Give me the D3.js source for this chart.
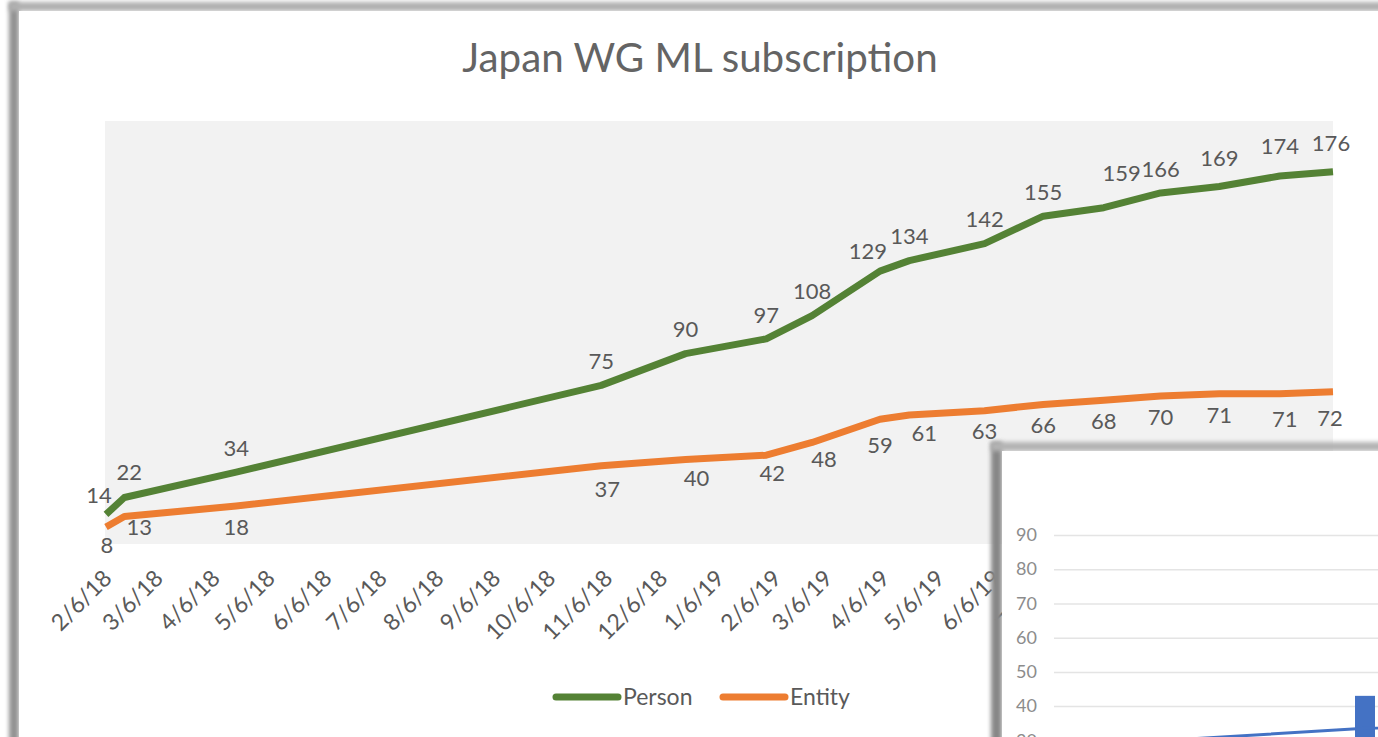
<!DOCTYPE html>
<html lang="en">
<head>
  <meta charset="UTF-8">
  <title>Japan WG ML subscription</title>
  <style>
    body { margin: 0; background: #fff; }
    svg text { font-family: Lato, "Open Sans", sans-serif; }
  </style>
</head>
<body>
<div id="chart"></div>

<script src="https://cdn.jsdelivr.net/npm/d3@7/dist/d3.min.js"></script>
<script>
  // snapshot dates (m/d/y on the axis) and subscriber counts
  const dates = ["2018-02-06", "2018-02-16", "2018-04-18", "2018-11-03", "2018-12-19", "2019-02-01",
    "2019-02-26", "2019-04-04", "2019-04-20", "2019-05-31", "2019-07-02", "2019-08-04",
    "2019-09-04", "2019-10-06", "2019-11-08", "2019-12-07"];
  const person = [14, 22, 34, 75, 90, 97, 108, 129, 134, 142, 155, 159, 166, 169, 174, 176];
  const entity = [8, 13, 18, 37, 40, 42, 48, 59, 61, 63, 66, 68, 70, 71, 71, 72];
  const seriesNames = ["Person", "Entity"];
  const tickLabels = ["2/6/18", "3/6/18", "4/6/18", "5/6/18", "6/6/18", "7/6/18", "8/6/18", "9/6/18",
    "10/6/18", "11/6/18", "12/6/18", "1/6/19", "2/6/19", "3/6/19", "4/6/19", "5/6/19", "6/6/19",
    "7/6/19", "8/6/19", "9/6/19", "10/6/19", "11/6/19", "12/6/19"];

  // the other chart window lying over the bottom right corner
  const cornerCats = ["c1", "c2", "c3"];
  const cornerBars = [25, 43, 40];
  const cornerLine = [29, 33.5, 36];
  const cornerTicks = [30, 40, 50, 60, 70, 80, 90];

  const W = 1378, H = 737;
  const plot = {left: 106, right: 1333, top: 121, bottom: 544};
  const colors = {Person: "#548235", Entity: "#ed7d31"};
  const textGray = "#595959";

  const parse = d3.timeParse("%Y-%m-%d");
  const parseTick = d3.timeParse("%m/%d/%y");
  const data = dates.map((d, i) => ({date: parse(d), Person: person[i], Entity: entity[i]}));

  const svg = d3.select("#chart").append("svg")
    .attr("width", W)
    .attr("height", H);

  const defs = svg.append("defs");
  defs.append("filter").attr("id", "soft")
    .attr("filterUnits", "userSpaceOnUse")
    .attr("x", -50).attr("y", -50).attr("width", W + 100).attr("height", H + 100)
    .append("feGaussianBlur").attr("stdDeviation", 2.2);

  // window edge: a soft grey band on the left and top
  const edge = (g, x0, y0, c1, c2, wl, wt) => {
    g.append("rect").attr("x", x0).attr("y", y0).attr("width", wl).attr("height", H + 40)
      .attr("fill", c1).attr("filter", "url(#soft)");
    g.append("rect").attr("x", x0).attr("y", y0).attr("width", W + 40).attr("height", wt)
      .attr("fill", c2).attr("filter", "url(#soft)");
  };
  edge(svg, 9, 2, "#939393", "#b0b0b0", 10, 9);
  svg.append("rect").attr("x", 19).attr("y", 11).attr("width", W).attr("height", H).attr("fill", "#fff");

  const x = d3.scaleTime()
    .domain(d3.extent(data, d => d.date))
    .range([plot.left, plot.right]);

  const y = d3.scaleLinear()
    .domain([0, 200])
    .range([plot.bottom, plot.top]);

  svg.append("rect")
    .attr("x", plot.left - 1)
    .attr("y", plot.top)
    .attr("width", plot.right - plot.left + 1)
    .attr("height", plot.bottom - plot.top)
    .attr("fill", "#f2f2f2");

  // title, sized to the width it takes in the original
  const title = svg.append("text")
    .attr("x", 700)
    .attr("y", 72)
    .attr("text-anchor", "middle")
    .attr("fill", "#646464")
    .style("font-size", "34px")
    .text("Japan WG ML subscription");
  const tw = title.node().getComputedTextLength();
  title.style("font-size", (34 * 475 / tw).toFixed(1) + "px");

  seriesNames.forEach(name => {
    const line = d3.line()
      .x(d => x(d.date))
      .y(d => y(d[name]));

    svg.append("path")
      .datum(data)
      .attr("fill", "none")
      .attr("stroke", colors[name])
      .attr("stroke-width", 7)
      .attr("stroke-linejoin", "round")
      .attr("d", line);
  });

  // data labels: Person above, Entity below, with the hand nudges seen in the original
  const labelShift = {
    Person: {base: [0, -24], nudge: {0: [-7, 5], 1: [5, -1], 7: [-12, 4], 11: [18, -10], 13: [0, -4], 14: [0, -6], 15: [-2, -4]}},
    Entity: {base: [0, 21], nudge: {0: [1, -3], 1: [15, -10], 3: [6, 3], 4: [11, -2], 5: [6, -3], 6: [12, -4], 7: [0, 5], 8: [15, -3], 14: [5, 4], 15: [-3, 6]}}
  };

  seriesNames.forEach(name => {
    const s = labelShift[name];
    svg.append("g")
      .selectAll("text")
      .data(data)
      .join("text")
      .attr("x", (d, i) => x(d.date) + s.base[0] + (s.nudge[i] ? s.nudge[i][0] : 0))
      .attr("y", (d, i) => y(d[name]) + s.base[1] + (s.nudge[i] ? s.nudge[i][1] : 0))
      .attr("dy", "0.35em")
      .attr("text-anchor", "middle")
      .attr("fill", textGray)
      .style("font-size", "22px")
      .text(d => d[name]);
  });

  // monthly date axis
  const xAxis = svg.append("g")
    .attr("transform", "translate(0," + plot.bottom + ")")
    .call(d3.axisBottom(x)
      .tickValues(tickLabels.map(t => parseTick(t)))
      .tickFormat(d3.timeFormat("%-m/%-d/%y"))
      .tickSize(0));
  xAxis.select(".domain").remove();
  xAxis.selectAll("text")
    .attr("x", 0)
    .attr("y", 0)
    .attr("dy", "0.35em")
    .attr("text-anchor", "end")
    .attr("transform", "translate(1,30) rotate(-45)")
    .attr("fill", textGray)
    .style("font-size", "23px")
    .style("font-family", "Lato, 'Open Sans', sans-serif");

  // legend
  const legendX = [556, 723];
  seriesNames.forEach((name, i) => {
    svg.append("line")
      .attr("x1", legendX[i]).attr("x2", legendX[i] + 62)
      .attr("y1", 697).attr("y2", 697)
      .attr("stroke", colors[name])
      .attr("stroke-width", 7)
      .attr("stroke-linecap", "round");
    svg.append("text")
      .attr("x", legendX[i] + 67)
      .attr("y", 697)
      .attr("dy", "0.35em")
      .attr("fill", textGray)
      .style("font-size", "23px")
      .text(name);
  });

  // overlapping window with another chart
  const win = svg.append("g");
  edge(win, 991, 442, "#878787", "#b3b3b3", 11, 9);
  win.append("rect")
    .attr("x", 1002).attr("y", 451)
    .attr("width", W - 1002).attr("height", H - 451)
    .attr("fill", "#fff");

  const oy = d3.scaleLinear().domain([0, 90]).range([843, 535]);
  const ox = d3.scalePoint().domain(cornerCats).range([1110, 1620]);

  const yAxis = win.append("g")
    .attr("transform", "translate(1054,0)")
    .call(d3.axisLeft(oy).tickValues(cornerTicks).tickSize(-(W - 1054)).tickPadding(17));
  yAxis.select(".domain").remove();
  yAxis.selectAll("line").attr("stroke", "#e4e4e4").attr("stroke-width", 1.5);
  yAxis.selectAll("text")
    .attr("fill", "#8c8c8c")
    .style("font-size", "18px")
    .style("font-family", "Lato, 'Open Sans', sans-serif");

  win.append("g")
    .selectAll("rect")
    .data(cornerBars)
    .join("rect")
    .attr("x", (d, i) => ox(cornerCats[i]) - 10)
    .attr("y", d => oy(d))
    .attr("width", 20)
    .attr("height", d => oy(0) - oy(d))
    .attr("fill", "#4472c4");

  win.append("path")
    .datum(cornerLine)
    .attr("fill", "none")
    .attr("stroke", "#4472c4")
    .attr("stroke-width", 3)
    .attr("d", d3.line().x((d, i) => ox(cornerCats[i])).y(d => oy(d)));
</script>
</body>
</html>
